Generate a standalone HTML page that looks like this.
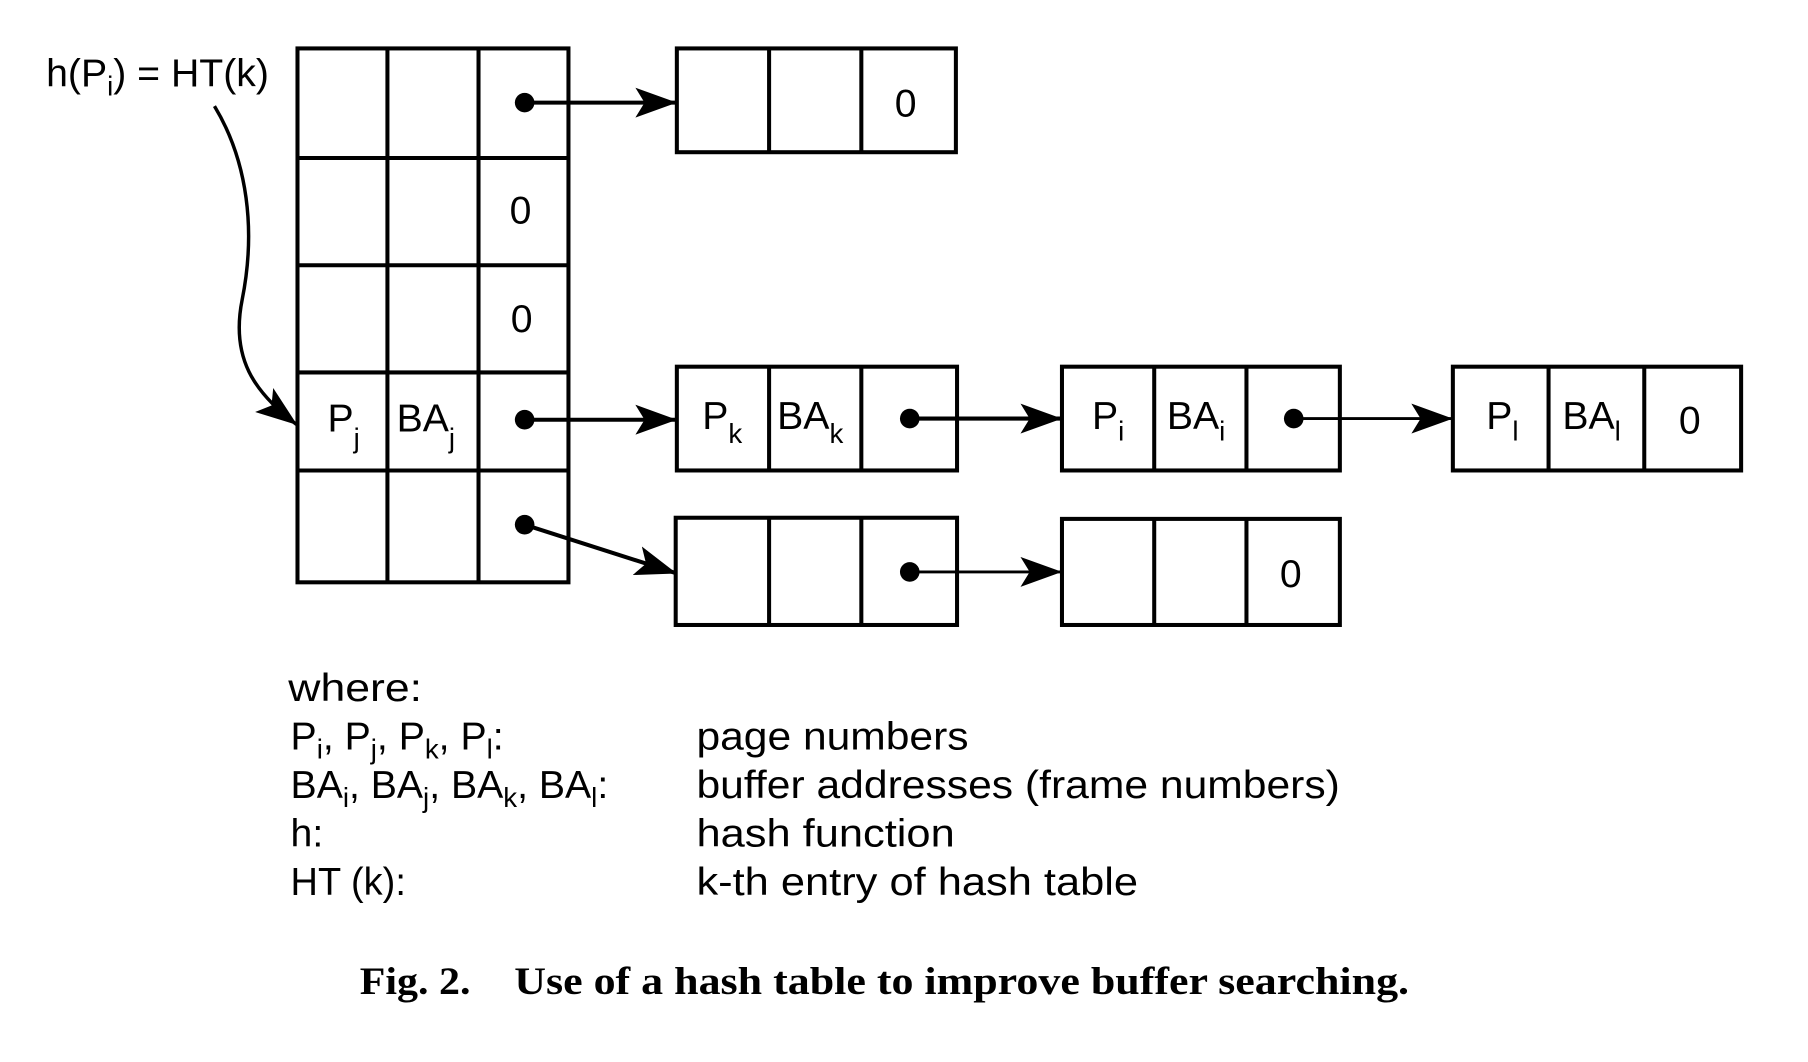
<!DOCTYPE html>
<html><head><meta charset="utf-8"><style>
html,body{margin:0;padding:0;background:#fff;}
svg{display:block}
.t{font-family:"Liberation Sans",sans-serif;font-size:34px;fill:#000}
.s{font-size:24px}
</style></head><body>
<svg width="1808" height="1062" viewBox="0 0 1568 921" preserveAspectRatio="none" xmlns="http://www.w3.org/2000/svg">
<defs>
<marker id="ah2" markerWidth="36" markerHeight="26" refX="35" refY="13" orient="auto" markerUnits="userSpaceOnUse" viewBox="0 0 36 26"><path d="M0,0 L36,13 L0,26 L8,13 z" fill="#000"/></marker></defs>
<g stroke="#000" stroke-width="3.5" fill="none">
<g>
<rect x="258" y="42" width="235" height="463"/>
<line x1="336" y1="42" x2="336" y2="505"/><line x1="415" y1="42" x2="415" y2="505"/>
<line x1="258" y1="137" x2="493" y2="137"/><line x1="258" y1="230" x2="493" y2="230"/>
<line x1="258" y1="323" x2="493" y2="323"/><line x1="258" y1="408" x2="493" y2="408"/>
</g>
<g><rect x="587" y="42" width="242" height="90"/><line x1="667" y1="42" x2="667" y2="132"/><line x1="747" y1="42" x2="747" y2="132"/></g>
<g><rect x="587" y="318" width="243" height="90"/><line x1="667" y1="318" x2="667" y2="408"/><line x1="747" y1="318" x2="747" y2="408"/></g>
<g><rect x="921" y="318" width="241" height="90"/><line x1="1001" y1="318" x2="1001" y2="408"/><line x1="1081" y1="318" x2="1081" y2="408"/></g>
<g><rect x="1260" y="318" width="250" height="90"/><line x1="1343" y1="318" x2="1343" y2="408"/><line x1="1426" y1="318" x2="1426" y2="408"/></g>
<g><rect x="586" y="449" width="244" height="93"/><line x1="667" y1="449" x2="667" y2="542"/><line x1="747" y1="449" x2="747" y2="542"/></g>
<g><rect x="921" y="450" width="241" height="92"/><line x1="1001" y1="450" x2="1001" y2="542"/><line x1="1081" y1="450" x2="1081" y2="542"/></g>
<line x1="455" y1="89" x2="586" y2="89" marker-end="url(#ah2)"/>
<line x1="455" y1="364" x2="586" y2="364" marker-end="url(#ah2)"/>
<line x1="455" y1="455" x2="586" y2="497" marker-end="url(#ah2)"/>
<line x1="789" y1="363" x2="920" y2="363" marker-end="url(#ah2)"/>
<line x1="1122" y1="363" x2="1259" y2="363" stroke-width="2.5" marker-end="url(#ah2)"/>
<line x1="789" y1="496" x2="920" y2="496" stroke-width="2.5" marker-end="url(#ah2)"/>
<path d="M186,92 C215,140 222,200 210,260 C200,310 220,340 257,368" stroke-width="3" marker-end="url(#ah2)"/>
</g>
<g fill="#000">
<circle cx="455" cy="89" r="8.5"/><circle cx="455" cy="364" r="8.5"/><circle cx="455" cy="455" r="8.5"/>
<circle cx="789" cy="363" r="8.5"/><circle cx="1122" cy="363" r="8.5"/><circle cx="789" cy="496" r="8.5"/>
</g>
<g class="t">
<text x="40" y="75">h(P<tspan class="s" dy="8">i</tspan><tspan dy="-8">) = HT(k)</tspan></text>
<text x="776" y="101">0</text><text x="442" y="194">0</text><text x="443" y="288">0</text>
<text x="1456" y="376">0</text><text x="1110" y="509">0</text>
<text x="284" y="374">P<tspan class="s" dy="14">j</tspan></text>
<text x="344" y="374">BA<tspan class="s" dy="14">j</tspan></text>
<text x="609" y="372">P<tspan class="s" dy="12">k</tspan></text>
<text x="674" y="372">BA<tspan class="s" dy="12">k</tspan></text>
<text x="947" y="372">P<tspan class="s" dy="10">i</tspan></text>
<text x="1012" y="372">BA<tspan class="s" dy="10">i</tspan></text>
<text x="1289" y="372">P<tspan class="s" dy="10">l</tspan></text>
<text x="1355" y="372">BA<tspan class="s" dy="10">l</tspan></text>
<g>
<text x="250" y="608" textLength="116" lengthAdjust="spacingAndGlyphs">where:</text>
<text x="252" y="650">P<tspan class="s" dy="8">i</tspan><tspan dy="-8">, P</tspan><tspan class="s" dy="8">j</tspan><tspan dy="-8">, P</tspan><tspan class="s" dy="8">k</tspan><tspan dy="-8">,  P</tspan><tspan class="s" dy="8">l</tspan><tspan dy="-8">:</tspan></text>
<text x="604" y="650" textLength="236" lengthAdjust="spacingAndGlyphs">page numbers</text>
<text x="252" y="692">BA<tspan class="s" dy="8">i</tspan><tspan dy="-8">, BA</tspan><tspan class="s" dy="8">j</tspan><tspan dy="-8">, BA</tspan><tspan class="s" dy="8">k</tspan><tspan dy="-8">, BA</tspan><tspan class="s" dy="8">l</tspan><tspan dy="-8">:</tspan></text>
<text x="604" y="692" textLength="558" lengthAdjust="spacingAndGlyphs">buffer addresses (frame numbers)</text>
<text x="252" y="734">h:</text><text x="604" y="734" textLength="224" lengthAdjust="spacingAndGlyphs">hash function</text>
<text x="252" y="776" textLength="100" lengthAdjust="spacingAndGlyphs">HT (k):</text><text x="604" y="776" textLength="383" lengthAdjust="spacingAndGlyphs">k-th entry of hash table</text>
</g>
<g style="font-family:'Liberation Serif',serif;font-size:34px;font-weight:bold">
<text x="312" y="862" textLength="96" lengthAdjust="spacingAndGlyphs">Fig. 2.</text>
<text x="446" y="862" textLength="776" lengthAdjust="spacingAndGlyphs">Use of a hash table to improve buffer searching.</text>
</g>
</g>
</svg>
</body></html>
